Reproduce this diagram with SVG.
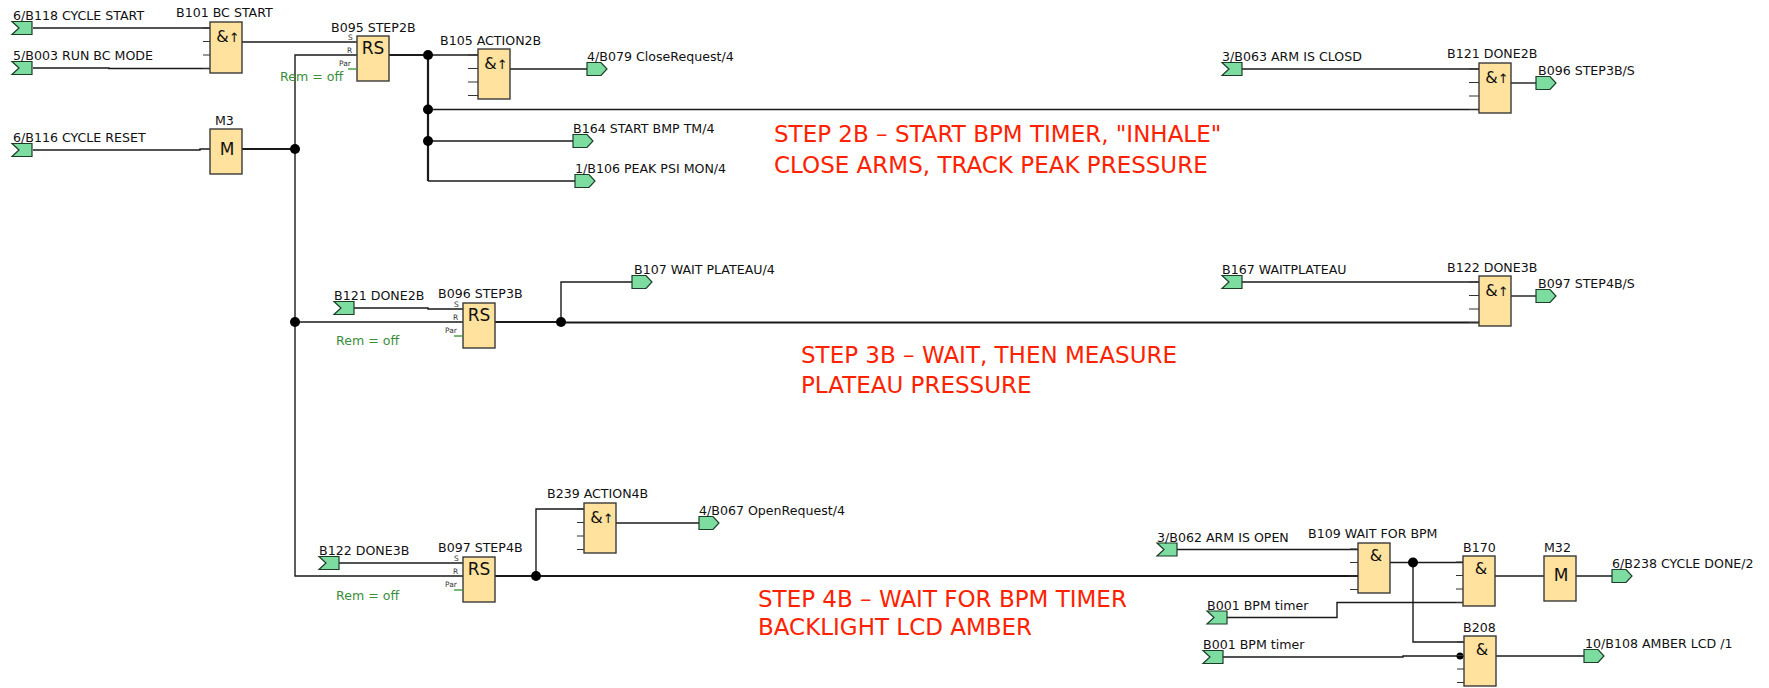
<svg xmlns="http://www.w3.org/2000/svg" width="1769" height="688" viewBox="0 0 1769 688">
<defs>
<path id="fin" d="M0,0H20V13H0L7,6.5Z"/>
<path id="fout" d="M0,0H14L20,6.5L14,13H0Z"/>
<style>
text{font-family:"DejaVu Sans",sans-serif}
.lb{font-size:12.6px;fill:#111}
.flag{fill:#7ddca0;stroke:#1d3d28;stroke-width:1.2}
.blk{fill:#fee29d;stroke:#3a3a3a;stroke-width:1.4}
.stub{stroke:#333;stroke-width:1.2}
.w{fill:none;stroke:#1a1a1a;stroke-width:1.4}
.wt{fill:none;stroke:#1a1a1a;stroke-width:2.2}
.sym{font-size:16px;fill:#111;text-anchor:middle}
.rs{font-size:17px;fill:#111;text-anchor:middle}
.pin{font-size:7.5px;fill:#333}
.rem{font-size:12.6px;fill:#3b8f3b}
.par{stroke:#3b9a3b;stroke-width:1.4}
.red{font-size:23px;fill:#ff2200}
.dot{fill:#000}
</style>
</defs>
<rect width="1769" height="688" fill="#fff"/>

<g id="connectors">
<path class="w" d="M33,28H210"/>
<path class="w" d="M33,68H109V68.5H210"/>
<path class="w" d="M33,150H200V149H210"/>
<path class="w" d="M242,42H357"/>
<path class="wt" d="M242,149H295"/>
<path class="w" d="M357,55H295V576H463"/>
<path class="w" d="M295,322H463"/>
<path class="w" d="M354,308H428V309H463"/>
<path class="w" d="M339,563H463"/>
<path class="wt" d="M389,55H428V181"/>
<path class="w" d="M428,55H478"/>
<path class="w" d="M428,109.5H1479"/>
<path class="w" d="M428,141H573"/>
<path class="w" d="M428,181H575"/>
<path class="w" d="M510,69H587"/>
<path class="w" d="M1242,69H1479"/>
<path class="w" d="M1511,83H1536"/>
<path class="wt" d="M495,322H561"/>
<path class="w" d="M561,322V282H632"/>
<path class="wt" d="M561,322.5H1479"/>
<path class="w" d="M1242,282H1479"/>
<path class="w" d="M1511,296H1536"/>
<path class="wt" d="M495,576H536"/>
<path class="w" d="M536,576V509H584"/>
<path class="wt" d="M536,576H1358"/>
<path class="w" d="M616,523H699"/>
<path class="w" d="M1177,549.5H1358"/>
<path class="w" d="M1390,562.5H1463"/>
<path class="w" d="M1413,562.5V642H1464"/>
<path class="w" d="M1495,576H1544"/>
<path class="w" d="M1576,576H1612"/>
<path class="w" d="M1227,617.5H1337V602.5H1463"/>
<path class="w" d="M1223,657H1403V656H1464"/>
<path class="w" d="M1496,656H1584"/>
<circle class="dot" cx="295" cy="149" r="5"/>
<circle class="dot" cx="295" cy="322" r="5"/>
<circle class="dot" cx="428" cy="55" r="5"/>
<circle class="dot" cx="428" cy="109.5" r="5"/>
<circle class="dot" cx="428" cy="141" r="5"/>
<circle class="dot" cx="561" cy="322" r="5"/>
<circle class="dot" cx="536" cy="576" r="5"/>
<circle class="dot" cx="1413" cy="562.5" r="5"/>
<circle class="dot" cx="1460" cy="656" r="3.5"/>
</g>

<g id="in_B118"><use href="#fin" class="flag" x="12" y="21.5"/><text class="lb" x="13" y="20">6/B118 CYCLE START</text></g>
<g id="in_B003"><use href="#fin" class="flag" x="12" y="61.5"/><text class="lb" x="13" y="60">5/B003 RUN BC MODE</text></g>
<g id="in_B116"><use href="#fin" class="flag" x="12" y="143.5"/><text class="lb" x="13" y="142">6/B116 CYCLE RESET</text></g>
<g id="in_B121"><use href="#fin" class="flag" x="334" y="301.5"/><text class="lb" x="334" y="300">B121 DONE2B</text></g>
<g id="in_B122"><use href="#fin" class="flag" x="319" y="556.5"/><text class="lb" x="319" y="555">B122 DONE3B</text></g>
<g id="in_B063"><use href="#fin" class="flag" x="1222" y="62.5"/><text class="lb" x="1222" y="61">3/B063 ARM IS CLOSD</text></g>
<g id="in_B167"><use href="#fin" class="flag" x="1222" y="275.5"/><text class="lb" x="1222" y="274">B167 WAITPLATEAU</text></g>
<g id="in_B062"><use href="#fin" class="flag" x="1157" y="543"/><text class="lb" x="1157" y="541.5">3/B062 ARM IS OPEN</text></g>
<g id="in_B001a"><use href="#fin" class="flag" x="1207" y="611"/><text class="lb" x="1207" y="609.5">B001 BPM timer</text></g>
<g id="in_B001b"><use href="#fin" class="flag" x="1203" y="650.5"/><text class="lb" x="1203" y="649">B001 BPM timer</text></g>

<g id="out_B079"><use href="#fout" class="flag" x="587" y="62.5"/><text class="lb" x="587" y="61">4/B079 CloseRequest/4</text></g>
<g id="out_B164"><use href="#fout" class="flag" x="573" y="134.5"/><text class="lb" x="573" y="133">B164 START BMP TM/4</text></g>
<g id="out_B106"><use href="#fout" class="flag" x="575" y="174.5"/><text class="lb" x="575" y="173">1/B106 PEAK PSI MON/4</text></g>
<g id="out_B096"><use href="#fout" class="flag" x="1536" y="76.5"/><text class="lb" x="1538" y="75">B096 STEP3B/S</text></g>
<g id="out_B107"><use href="#fout" class="flag" x="632" y="275.5"/><text class="lb" x="634" y="274">B107 WAIT PLATEAU/4</text></g>
<g id="out_B097"><use href="#fout" class="flag" x="1536" y="289.5"/><text class="lb" x="1538" y="288">B097 STEP4B/S</text></g>
<g id="out_B067"><use href="#fout" class="flag" x="699" y="516.5"/><text class="lb" x="699" y="515">4/B067 OpenRequest/4</text></g>
<g id="out_B238"><use href="#fout" class="flag" x="1612" y="569.5"/><text class="lb" x="1612" y="568">6/B238 CYCLE DONE/2</text></g>
<g id="out_B108"><use href="#fout" class="flag" x="1584" y="649.5"/><text class="lb" x="1585" y="648">10/B108 AMBER LCD /1</text></g>

<g id="B101">
<path class="stub" d="M203,28H210M203,41.5H210M203,55H210M203,68.5H210"/>
<rect class="blk" x="210" y="22" width="32" height="51"/>
<text class="sym" x="228" y="42">&amp;<tspan font-size="13">↑</tspan></text>
<text class="lb" x="176" y="17">B101 BC START</text>
</g>
<g id="M3">
<rect class="blk" x="210" y="129" width="32" height="45"/>
<text class="rs" x="227" y="155">M</text>
<text class="lb" x="215" y="125">M3</text>
</g>
<g id="B095">
<rect class="blk" x="357" y="36" width="32" height="45"/>
<text class="rs" x="373" y="54">RS</text>
<text class="pin" x="348" y="40">S</text><text class="pin" x="347" y="53">R</text><text class="pin" x="339" y="66">Par</text>
<path class="par" d="M348,69H357"/>
<text class="lb" x="331" y="32">B095 STEP2B</text>
<text class="rem" x="280" y="81">Rem = off</text>
</g>
<g id="B105">
<path class="stub" d="M468,55H478M468,68.5H478M468,82H478M468,95.5H478"/>
<rect class="blk" x="478" y="49" width="32" height="50"/>
<text class="sym" x="496" y="69">&amp;<tspan font-size="13">↑</tspan></text>
<text class="lb" x="440" y="45">B105 ACTION2B</text>
</g>
<g id="B121">
<path class="stub" d="M1469,69H1479M1469,82.5H1479M1469,96H1479M1469,109.5H1479"/>
<rect class="blk" x="1479" y="63" width="32" height="50"/>
<text class="sym" x="1497" y="83">&amp;<tspan font-size="13">↑</tspan></text>
<text class="lb" x="1447" y="58">B121 DONE2B</text>
</g>
<g id="B096">
<rect class="blk" x="463" y="303" width="32" height="45"/>
<text class="rs" x="479" y="321">RS</text>
<text class="pin" x="454" y="307">S</text><text class="pin" x="453" y="320">R</text><text class="pin" x="445" y="333">Par</text>
<path class="par" d="M454,336H463"/>
<text class="lb" x="438" y="298">B096 STEP3B</text>
<text class="rem" x="336" y="345">Rem = off</text>
</g>
<g id="B122">
<path class="stub" d="M1469,282H1479M1469,295.5H1479M1469,309H1479M1469,322.5H1479"/>
<rect class="blk" x="1479" y="276" width="32" height="50"/>
<text class="sym" x="1497" y="296">&amp;<tspan font-size="13">↑</tspan></text>
<text class="lb" x="1447" y="272">B122 DONE3B</text>
</g>
<g id="B097">
<rect class="blk" x="463" y="557" width="32" height="45"/>
<text class="rs" x="479" y="575">RS</text>
<text class="pin" x="454" y="561">S</text><text class="pin" x="453" y="574">R</text><text class="pin" x="445" y="587">Par</text>
<path class="par" d="M454,590H463"/>
<text class="lb" x="438" y="552">B097 STEP4B</text>
<text class="rem" x="336" y="600">Rem = off</text>
</g>
<g id="B239">
<path class="stub" d="M577,509H584M577,522.5H584M577,536H584M577,549.5H584"/>
<rect class="blk" x="584" y="503" width="32" height="50"/>
<text class="sym" x="602" y="523">&amp;<tspan font-size="13">↑</tspan></text>
<text class="lb" x="547" y="498">B239 ACTION4B</text>
</g>
<g id="B109">
<path class="stub" d="M1350,549H1358M1350,562.5H1358M1350,576H1358M1350,589.5H1358"/>
<rect class="blk" x="1358" y="543" width="32" height="50"/>
<text class="sym" x="1376" y="561">&amp;</text>
<text class="lb" x="1308" y="538">B109 WAIT FOR BPM</text>
</g>
<g id="B170">
<path class="stub" d="M1456,562H1463M1456,575.5H1463M1456,589H1463M1456,602.5H1463"/>
<rect class="blk" x="1463" y="556" width="32" height="50"/>
<text class="sym" x="1481" y="574">&amp;</text>
<text class="lb" x="1463" y="552">B170</text>
</g>
<g id="M32">
<rect class="blk" x="1544" y="556" width="32" height="45"/>
<text class="rs" x="1561" y="581">M</text>
<text class="lb" x="1544" y="552">M32</text>
</g>
<g id="B208">
<path class="stub" d="M1457,642H1464M1457,655.5H1464M1457,669H1464M1457,682.5H1464"/>
<rect class="blk" x="1464" y="636" width="32" height="50"/>
<text class="sym" x="1482" y="655">&amp;</text>
<text class="lb" x="1463" y="632">B208</text>
</g>

<g id="notes">
<text class="red" x="774" y="142">STEP 2B – START BPM TIMER, "INHALE"</text>
<text class="red" x="774" y="173">CLOSE ARMS, TRACK PEAK PRESSURE</text>
<text class="red" x="801" y="363">STEP 3B – WAIT, THEN MEASURE</text>
<text class="red" x="801" y="393">PLATEAU PRESSURE</text>
<text class="red" x="758" y="607">STEP 4B – WAIT FOR BPM TIMER</text>
<text class="red" x="758" y="635">BACKLIGHT LCD AMBER</text>
</g>
</svg>
